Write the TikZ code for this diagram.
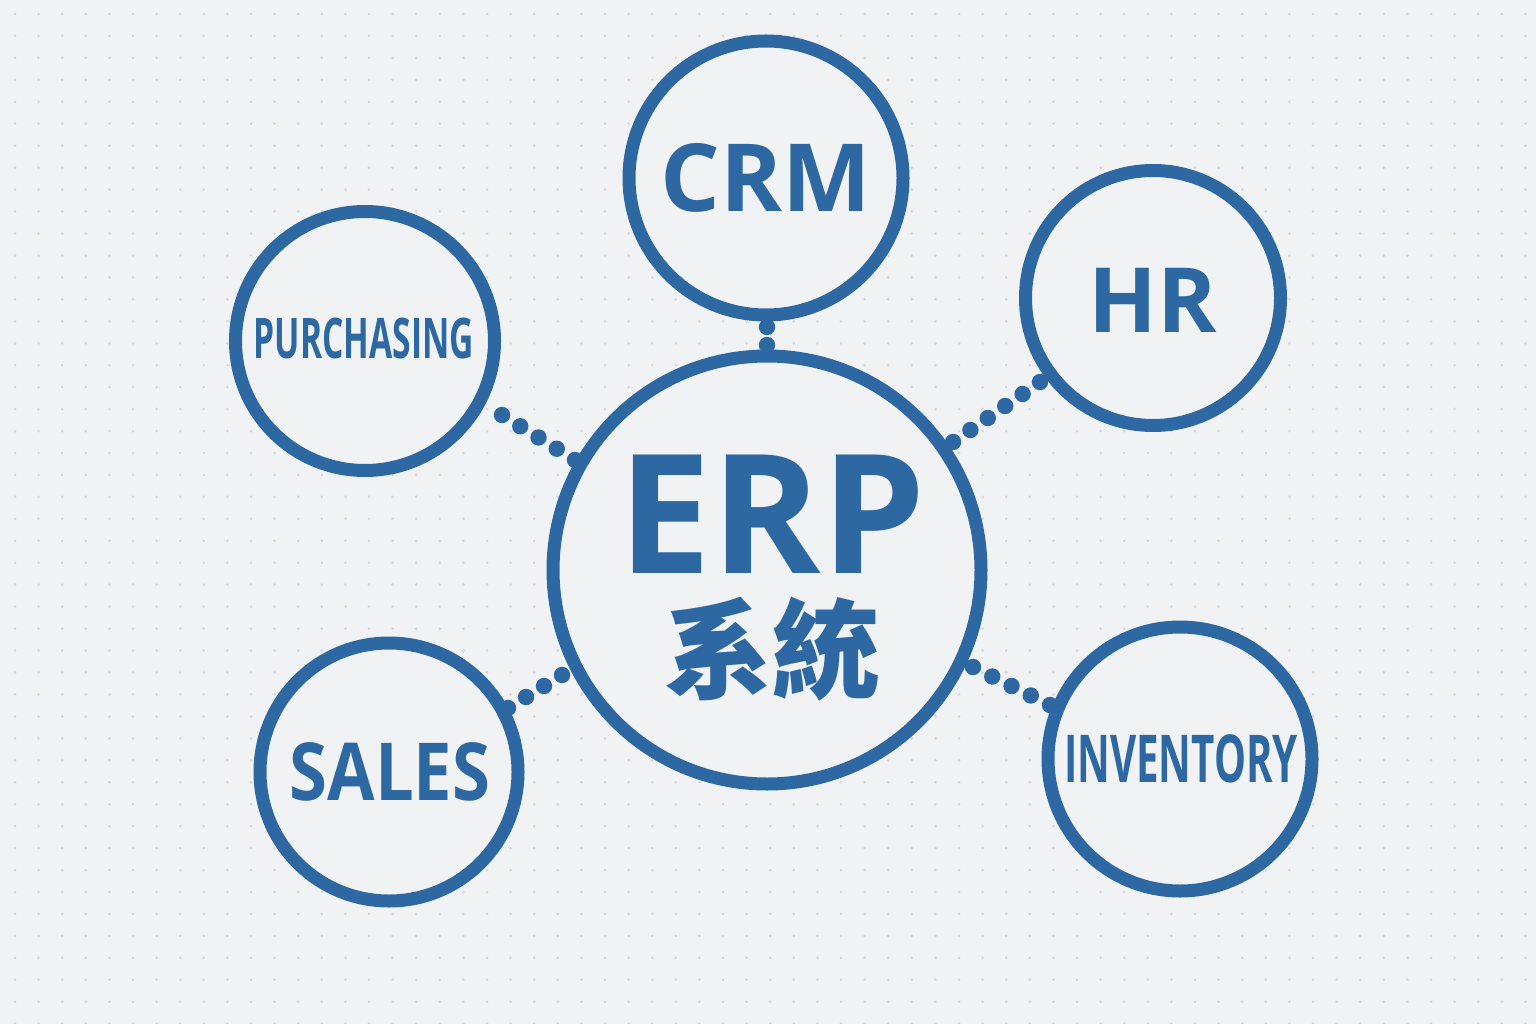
\documentclass[tikz,border=0pt]{standalone}
\usepackage{fontspec}
\setmainfont{Open Sans}
\newfontfamily\cjkf{Noto Sans CJK TC}
\usetikzlibrary{calc}
\definecolor{erpblue}{RGB}{45,104,163}
\definecolor{bgc}{RGB}{241,242,243}
\definecolor{griddot}{RGB}{212,214,217}
\begin{document}
\begin{tikzpicture}[x=1pt,y=-1pt,
  ring/.style={draw=erpblue, line width=13pt, circle, inner sep=0pt, fill=bgc},
  lbl/.style={text=erpblue, inner sep=0pt, anchor=base, text depth=0pt},
  dotc/.style={fill=erpblue}]
\fill[bgc] (0,0) rectangle (1536,1024);
\useasboundingbox (0,0) rectangle (1536,1024);
\foreach \i in {0,...,64} \foreach \j in {0,...,46}
  \fill[griddot] ({15+23.6*\i},{14+21.95*\j}) circle (1.5pt);
% connector end points
\coordinate (p0) at (575,460); \coordinate (p1) at (502,415);
\coordinate (c0) at (767,345); \coordinate (c1) at (767,327);
\coordinate (h0) at (953,442); \coordinate (h1) at (1040,382);
\coordinate (s0) at (562,675); \coordinate (s1) at (508,708);
\coordinate (i0) at (973,667); \coordinate (i1) at (1050,705);
% rings
\node[ring, minimum size=428pt] (erp) at (767,570) {};
\node[ring, minimum size=274pt] (crm) at (766,178) {};
\node[ring, minimum size=255pt] (hr) at (1153,298) {};
\node[ring, minimum size=259pt] (pur) at (365,341) {};
\node[ring, minimum size=258pt] (sal) at (389,772) {};
\node[ring, minimum size=264pt] (inv) at (1180,759) {};
% connectors
\foreach \k in {0,...,4} \fill[dotc] ($(p0)!{\k/4}!(p1)$) circle (8.2pt);
\foreach \k in {0,...,1} \fill[dotc] ($(c0)!{\k/1}!(c1)$) circle (8.2pt);
\foreach \k in {0,...,5} \fill[dotc] ($(h0)!{\k/5}!(h1)$) circle (8.2pt);
\foreach \k in {0,...,3} \fill[dotc] ($(s0)!{\k/3}!(s1)$) circle (8.2pt);
\foreach \k in {0,...,4} \fill[dotc] ($(i0)!{\k/4}!(i1)$) circle (8.2pt);
% labels
\node[text=erpblue, inner sep=0pt, align=center, anchor=base,
      font=\bfseries\fontsize{166}{117}\selectfont] (erpt) at (772,690)
      {ERP\\{\cjkf\bfseries\fontsize{108}{117}\selectfont 系統}};
\node[lbl, font=\bfseries\fontsize{94}{94}\selectfont] (crmt) at (766,212) {CRM};
\node[lbl, font=\bfseries\fontsize{90}{90}\selectfont] (hrt) at (1153,332) {HR};
\node[lbl, font=\bfseries\fontsize{80}{80}\selectfont] (salt) at (390,800) {\scalebox{0.86}[1]{SALES}};
\node[lbl, font=\bfseries\fontsize{56}{56}\selectfont] (purt) at (364,358) {\scalebox{0.6}[1]{PURCHASING}};
\node[lbl, font=\bfseries\fontsize{66}{66}\selectfont] (invt) at (1181,782) {\scalebox{0.61}[1]{INVENTORY}};
\end{tikzpicture}
\end{document}
